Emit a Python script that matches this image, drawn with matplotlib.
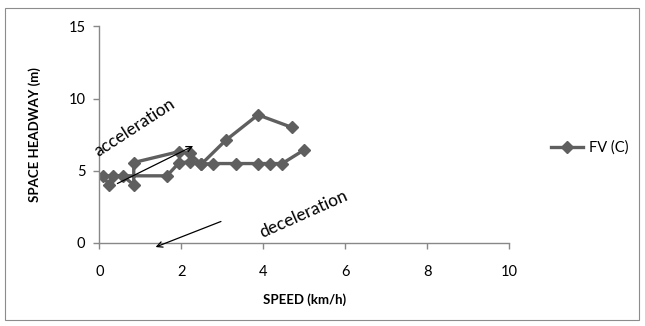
import matplotlib.pyplot as plt
from matplotlib.patches import Rectangle

plt.rcParams['font.family'] = ['Lato', 'DejaVu Sans']

# speed (km/h) vs space headway (m), single trace
speed = [4.70, 3.87, 3.08, 2.49, 2.20, 1.95, 0.84, 0.84, 0.57, 0.34, 0.24, 0.08,
         1.65, 1.95, 2.20, 2.49, 2.77, 3.34, 3.87, 4.17, 4.46, 5.00]
headway = [8.00, 8.87, 7.10, 5.46, 6.20, 6.33, 5.57, 4.03, 4.65, 4.65, 4.03, 4.65,
           4.65, 5.57, 5.60, 5.46, 5.50, 5.50, 5.50, 5.50, 5.50, 6.45]

x_ticks = [0, 2, 4, 6, 8, 10]
y_ticks = [0, 5, 10, 15]

grey = '#5f5f5f'
axis_grey = '#888888'

fig = plt.figure(figsize=(6.45, 3.26), dpi=100)
fig.patches.append(Rectangle((5 / 645, 6 / 326), 634 / 645, 312 / 326,
                             transform=fig.transFigure, fill=False,
                             edgecolor='#8c8c8c', linewidth=0.8))
ax = fig.add_axes([99.3 / 645, 83 / 326, 410 / 645, 216.7 / 326])

ax.plot(speed, headway, color=grey, linewidth=2.4, marker='D', markersize=6,
        markerfacecolor=grey, markeredgecolor=grey, label='FV (C)')

ax.set_xlim(0, 10)
ax.set_ylim(0, 15)
ax.set_xticks(x_ticks)
ax.set_yticks(y_ticks)
for s in ['top', 'right']:
    ax.spines[s].set_visible(False)
for s in ['left', 'bottom']:
    ax.spines[s].set_color(axis_grey)
    ax.spines[s].set_linewidth(1.0)
ax.tick_params(colors=axis_grey, labelcolor='black', labelsize=10.5, length=4,
               width=1.0, direction='out')
ax.tick_params(axis='x', pad=12)
ax.tick_params(axis='y', pad=6)

ax.set_xlabel('SPEED (km/h)', fontsize=9.5, fontweight='bold', labelpad=10)
ax.set_ylabel('SPACE HEADWAY (m)', fontsize=9.5, fontweight='bold', labelpad=20)

ax.annotate('', xy=(2.35, 6.8), xytext=(0.38, 4.03),
            arrowprops=dict(arrowstyle='->', color='black', lw=0.9))
ax.annotate('', xy=(1.31, -0.35), xytext=(3.03, 1.56),
            arrowprops=dict(arrowstyle='->', color='black', lw=0.9),
            annotation_clip=False)
ax.text(0.87, 8.0, 'acceleration', fontsize=12.5, rotation=33,
        ha='center', va='center')
ax.text(4.98, 2.0, 'deceleration', fontsize=12.5, rotation=24,
        ha='center', va='center')

ax.legend(loc='center left', bbox_to_anchor=(1.07, 0.44), frameon=False,
          fontsize=10.5, handlelength=2.2, handletextpad=0.4)

fig.savefig('out.png', dpi=100)
